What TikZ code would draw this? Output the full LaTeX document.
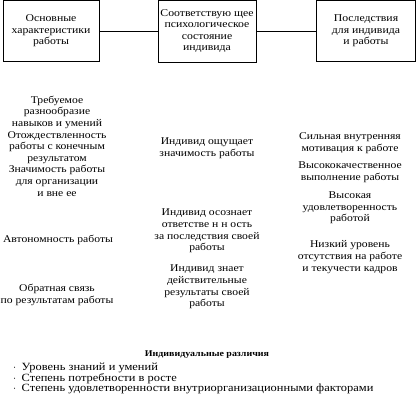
\documentclass[tikz,border=0pt]{standalone}
\usepackage{fontspec}
\setmainfont[FakeStretch=1.13]{Liberation Serif}
\usetikzlibrary{positioning}

\begin{document}
\begin{tikzpicture}[
        x=1pt, y=-1pt,
        box/.style={draw, rectangle, line width=0.8pt, align=center, inner sep=0pt, font=\fontsize{10.4}{11.4}\selectfont},
        txt/.style={align=center, inner sep=0pt, font=\fontsize{10.3}{11.6}\selectfont},
        head/.style={font=\fontsize{8.8}{10}\selectfont\bfseries, inner sep=0pt},
        lst/.style={align=left, anchor=north west, inner sep=0pt, font=\fontsize{11}{10.6}\selectfont}
    ]
        \useasboundingbox (0,0) rectangle (416,408);

        \node[box, minimum width=96pt, minimum height=61pt] (har) at (51,31) {Основные\\характеристики\\работы};
        \node[box, minimum width=98pt, minimum height=62pt] (sost) at (207,31) {Соответствую щее\\психологическое\\состояние\\индивида};
        \node[box, minimum width=99pt, minimum height=61pt] (posl) at (366,31) {Последствия\\для индивида\\и работы};

        \draw[line width=0.8pt] (har.east) -- (sost.west);
        \draw[line width=0.8pt] (sost.east) -- (posl.west);

        % характеристики
        \node[txt] (h1) at (57,146) {Требуемое\\разнообразие\\навыков и умений\\Отождествленность\\работы с конечным\\результатом\\Значимость работы\\для организации\\и вне ее};
        \node[txt] (h2) at (58,240) {Автономность работы};
        \node[txt] (h3) at (57,295) {Обратная связь\\по результатам работы};

        % состояние
        \node[txt] (s1) at (207,148) {Индивид ощущает\\значимость работы};
        \node[txt] (s2) at (207,231) {Индивид осознает\\ответстве н н ость\\за последствия своей\\работы};
        \node[txt] (s3) at (207,287) {Индивид знает\\действительные\\результаты своей\\работы};

        % последствия
        \node[txt] (p1) at (350,143) {Сильная внутренняя\\мотивация к работе};
        \node[txt] (p2) at (350,172) {Высококачественное\\выполнение работы};
        \node[txt] (p3) at (350,208) {Высокая\\удовлетворенность\\работой};
        \node[txt] (p4) at (350,257) {Низкий уровень\\отсутствия на работе\\и текучести кадров};

        % различия
        \node[head] (raz) at (207,355) {Индивидуальные различия};
        \node[lst] (spis) at (13,363) {$\cdot$\enspace Уровень знаний и умений\\$\cdot$\enspace Степень потребности в росте\\$\cdot$\enspace Степень удовлетворенности внутриорганизационными факторами};
\end{tikzpicture}
\end{document}
